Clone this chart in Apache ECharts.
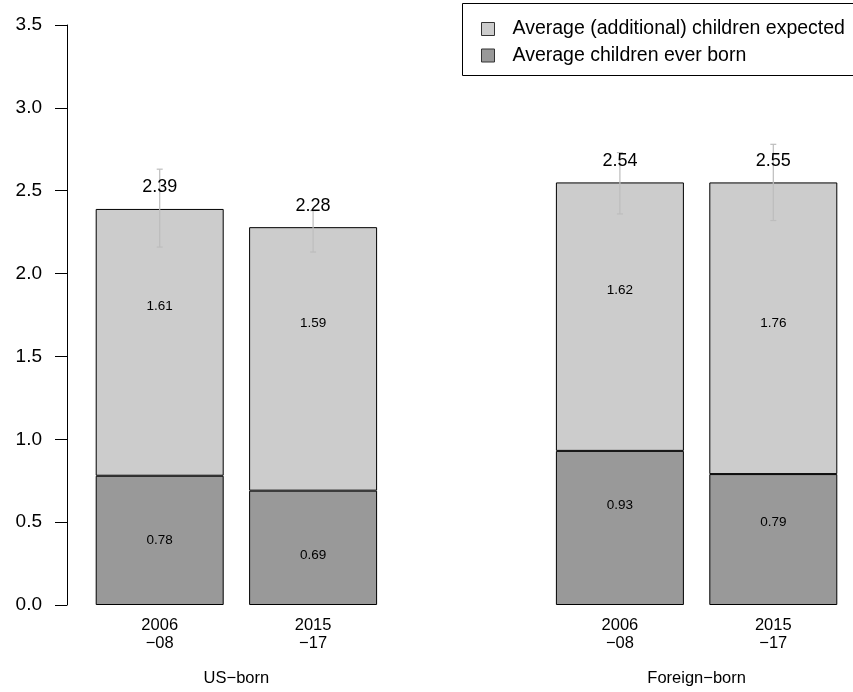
<!DOCTYPE html>
<html>
<head>
<meta charset="utf-8">
<script src="https://cdn.jsdelivr.net/npm/echarts@6/dist/echarts.min.js"></script>
<style>
html,body{margin:0;padding:0;background:#fff;}
#chart{width:853px;height:692px;}
</style>
</head>
<body>
<div id="chart"></div>
<script>
// ---- data ----
const categories = ['2006\n\u221208', '2015\n\u221217', '', '2006\n\u221208', '2015\n\u221217'];
const groupLabels = ['US\u2212born', 'Foreign\u2212born'];
const bornValues = [0.78, 0.69, null, 0.93, 0.79];
const expectedValues = [1.61, 1.59, null, 1.62, 1.76];
const totalLabels = ['2.39', '2.28', null, '2.54', '2.55'];
const errLow = [2.16, 2.13, null, 2.36, 2.32];
const errHigh = [2.63, 2.38, null, 2.73, 2.78];
// vertical anchors of the in-bar value labels as placed in the original
const bornLabelAt = [0.39, 0.30, null, 0.60, 0.50];
const expectedLabelAt = [1.80, 1.70, null, 1.90, 1.70];
const yMin = 0, yMax = 3.5, yStep = 0.5;

const FONT = '"Liberation Sans", Arial, Helvetica, sans-serif';
const chart = echarts.init(document.getElementById('chart'), null, {renderer: 'canvas'});

const totals = bornValues.map((b, i) => b == null ? null : b + expectedValues[i]);

const errData = [];
const totalData = [];
const innerData = [];
categories.forEach((c, i) => {
  if (errLow[i] != null) errData.push([i, errLow[i], errHigh[i]]);
  if (totals[i] != null) totalData.push([i, totals[i], totalLabels[i]]);
  if (bornValues[i] != null) {
    innerData.push([i, bornLabelAt[i], bornValues[i].toFixed(2)]);
    innerData.push([i, expectedLabelAt[i], expectedValues[i].toFixed(2)]);
  }
});

const option = {
  animation: false,
  backgroundColor: '#ffffff',
  textStyle: {fontFamily: FONT, color: '#000'},
  grid: [
    {left: 67, right: 0, top: 25, bottom: 87, containLabel: false},
    {left: 83, right: 0, top: 25, bottom: 87, containLabel: false}
  ],
  legend: {
    orient: 'vertical',
    left: 481,
    top: 19,
    padding: 0,
    itemWidth: 13,
    itemHeight: 13,
    itemGap: 6.5,
    icon: 'rect',
    data: ['Average (additional) children expected', 'Average children ever born'],
    itemStyle: {borderColor: '#333', borderWidth: 1},
    textStyle: {fontFamily: FONT, fontSize: 19.5, lineHeight: 19, color: '#000', padding: [0, 0, 0, 13]}
  },
  graphic: [{
    type: 'rect',
    shape: {x: 462.5, y: 3.5, width: 430, height: 72},
    style: {fill: null, stroke: '#000', lineWidth: 1},
    silent: true
  }],
  xAxis: [{
    gridIndex: 0,
    type: 'value',
    min: 0, max: 1,
    show: false
  }, {
    gridIndex: 1,
    type: 'category',
    data: categories,
    axisLine: {show: false},
    axisTick: {show: false},
    axisLabel: {fontFamily: FONT, fontSize: 16.5, lineHeight: 18, color: '#000', margin: 11, interval: 0}
  }, {
    gridIndex: 1,
    type: 'value',
    min: 0,
    max: 5,
    interval: 1,
    position: 'bottom',
    axisLine: {show: false},
    axisTick: {show: false},
    splitLine: {show: false},
    axisLabel: {
      fontFamily: FONT, fontSize: 16.5, color: '#000', margin: 65,
      showMinLabel: true, showMaxLabel: true,
      formatter: v => v === 1 ? groupLabels[0] : (v === 4 ? groupLabels[1] : '')
    }
  }],
  yAxis: [{
    gridIndex: 0,
    type: 'value',
    min: yMin,
    max: yMax,
    interval: yStep,
    axisLine: {show: true, lineStyle: {color: '#000', width: 1}},
    axisTick: {show: true, length: 12, lineStyle: {color: '#000', width: 1}},
    splitLine: {show: false},
    axisLabel: {fontFamily: FONT, fontSize: 19, color: '#000', margin: 25, formatter: v => v.toFixed(1)}
  }, {
    gridIndex: 1,
    type: 'value',
    min: yMin,
    max: yMax,
    interval: yStep,
    show: false
  }],
  series: [{
    name: 'Average children ever born',
    type: 'bar',
    xAxisIndex: 1, yAxisIndex: 1,
    stack: 'total',
    barWidth: 128,
    data: bornValues,
    itemStyle: {color: '#999999', borderColor: '#000', borderWidth: 1},
    z: 2
  }, {
    name: 'Average (additional) children expected',
    type: 'bar',
    xAxisIndex: 1, yAxisIndex: 1,
    stack: 'total',
    barWidth: 128,
    data: expectedValues,
    itemStyle: {color: '#cccccc', borderColor: '#000', borderWidth: 1},
    z: 2
  }, {
    type: 'custom',
    name: 'err',
    xAxisIndex: 1, yAxisIndex: 1,
    data: errData,
    z: 5,
    silent: true,
    renderItem: function (params, api) {
      const x = api.value(0);
      const p1 = api.coord([x, api.value(1)]);
      const p2 = api.coord([x, api.value(2)]);
      const cap = 3;
      const st = {stroke: '#bdbdbd', lineWidth: 1.2};
      return {
        type: 'group',
        children: [
          {type: 'line', shape: {x1: p1[0], y1: p1[1], x2: p2[0], y2: p2[1]}, style: st},
          {type: 'line', shape: {x1: p1[0] - cap, y1: p1[1], x2: p1[0] + cap, y2: p1[1]}, style: st},
          {type: 'line', shape: {x1: p2[0] - cap, y1: p2[1], x2: p2[0] + cap, y2: p2[1]}, style: st}
        ]
      };
    }
  }, {
    type: 'custom',
    name: 'totals',
    xAxisIndex: 1, yAxisIndex: 1,
    data: totalData,
    z: 6,
    silent: true,
    renderItem: function (params, api) {
      const p = api.coord([api.value(0), api.value(1)]);
      return {
        type: 'text',
        x: p[0], y: p[1] - 21.5,
        style: {text: totalData[params.dataIndex][2], fontFamily: FONT, fontSize: 18, fill: '#000', align: 'center', verticalAlign: 'middle'}
      };
    }
  }, {
    type: 'custom',
    name: 'inner',
    xAxisIndex: 1, yAxisIndex: 1,
    data: innerData,
    z: 6,
    silent: true,
    renderItem: function (params, api) {
      const p = api.coord([api.value(0), api.value(1)]);
      return {
        type: 'text',
        x: p[0], y: p[1],
        style: {text: innerData[params.dataIndex][2], fontFamily: FONT, fontSize: 13.5, fill: '#000', align: 'center', verticalAlign: 'middle'}
      };
    }
  }]
};
chart.setOption(option);
</script>
</body>
</html>
